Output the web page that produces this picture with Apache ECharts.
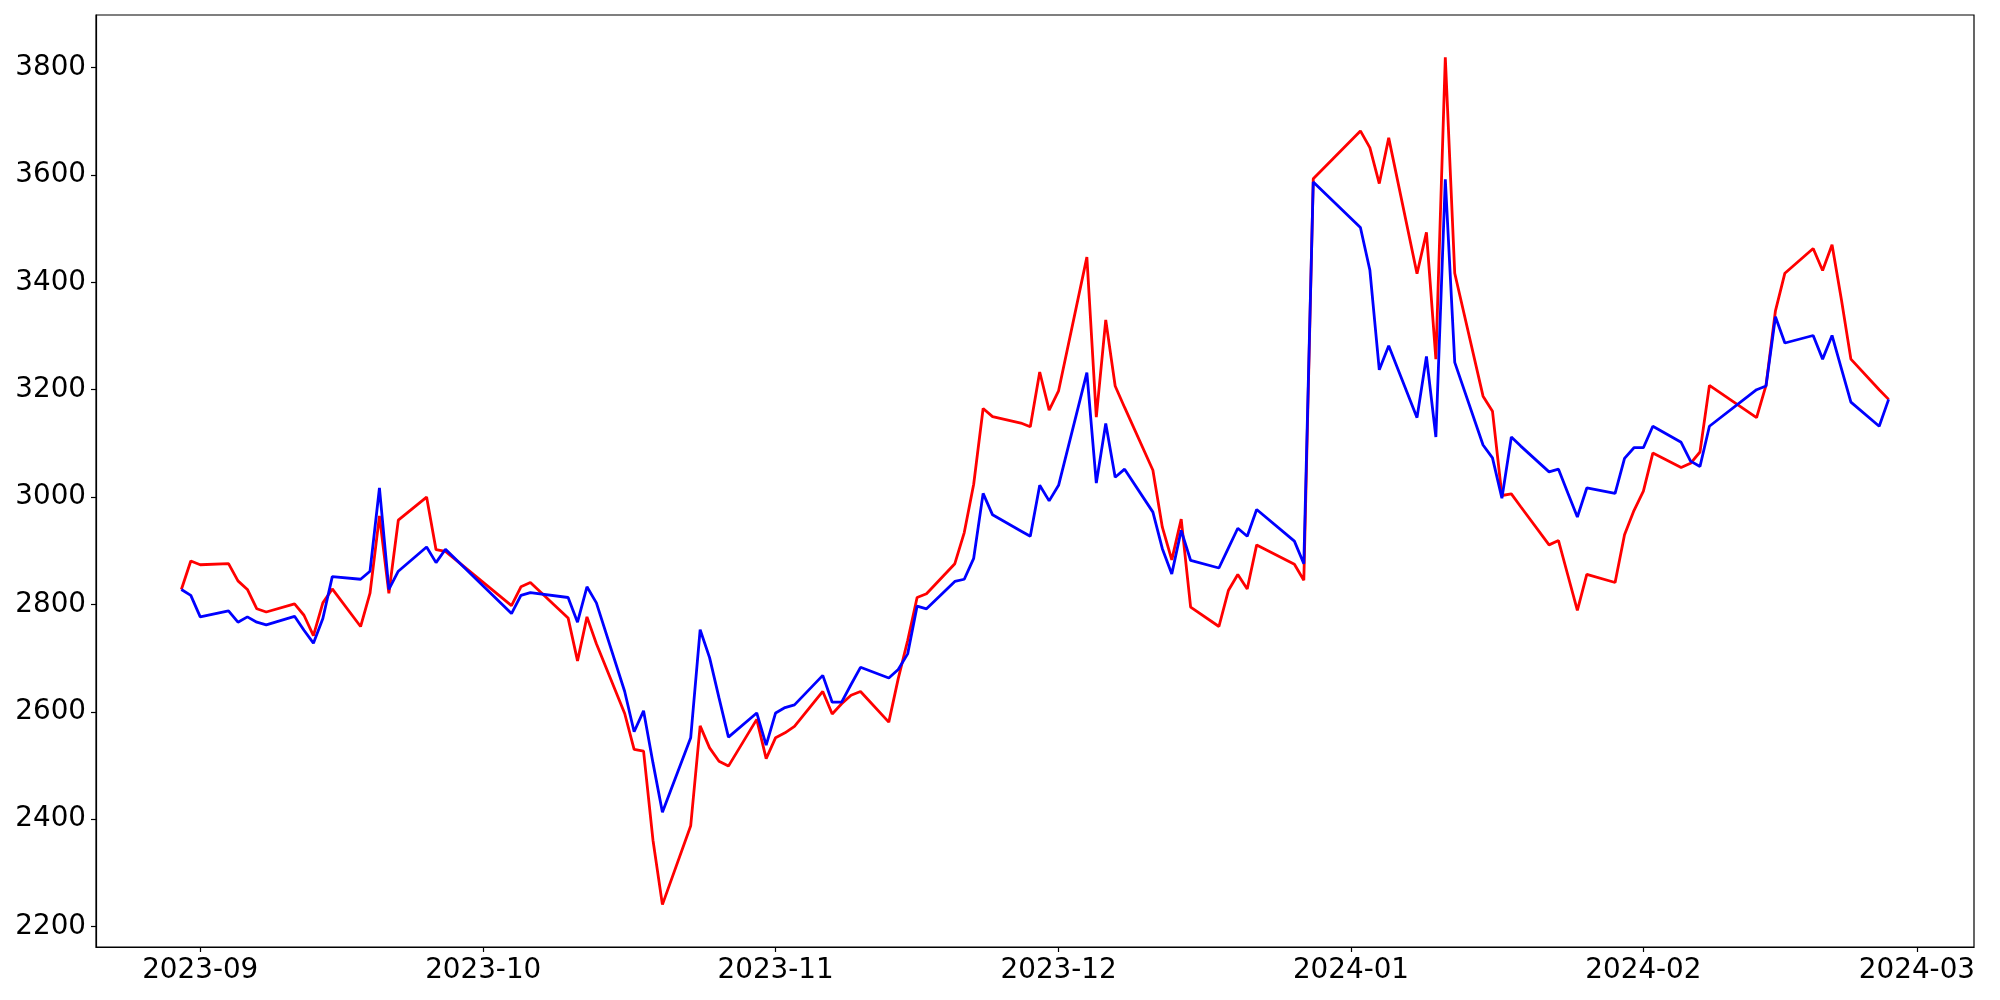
<!DOCTYPE html>
<html>
<head>
<meta charset="utf-8">
<title>line chart</title>
<script src="https://cdn.jsdelivr.net/npm/echarts@6/dist/echarts.min.js"></script>
<style>
  html, body { margin: 0; padding: 0; background: #fff; }
  #main { width: 2000px; height: 1000px; }
</style>
</head>
<body>
<div id="main"></div>
<script>
// trading days (weekends / holidays are simply absent)
const dates = [
  '2023-08-30', '2023-08-31', '2023-09-01',
  '2023-09-04', '2023-09-05', '2023-09-06', '2023-09-07', '2023-09-08',
  '2023-09-11', '2023-09-12', '2023-09-13', '2023-09-14', '2023-09-15',
  '2023-09-18', '2023-09-19', '2023-09-20', '2023-09-21', '2023-09-22',
  '2023-09-25', '2023-09-26', '2023-09-27',
  '2023-10-04', '2023-10-05', '2023-10-06',
  '2023-10-10', '2023-10-11', '2023-10-12', '2023-10-13',
  '2023-10-16', '2023-10-17', '2023-10-18', '2023-10-19', '2023-10-20',
  '2023-10-23', '2023-10-24', '2023-10-25', '2023-10-26', '2023-10-27',
  '2023-10-30', '2023-10-31', '2023-11-01', '2023-11-02', '2023-11-03',
  '2023-11-06', '2023-11-07', '2023-11-08', '2023-11-09', '2023-11-10',
  '2023-11-13', '2023-11-14', '2023-11-15', '2023-11-16', '2023-11-17',
  '2023-11-20', '2023-11-21', '2023-11-22', '2023-11-23', '2023-11-24',
  '2023-11-27', '2023-11-28', '2023-11-29', '2023-11-30', '2023-12-01',
  '2023-12-04', '2023-12-05', '2023-12-06', '2023-12-07', '2023-12-08',
  '2023-12-11', '2023-12-12', '2023-12-13', '2023-12-14', '2023-12-15',
  '2023-12-18', '2023-12-19', '2023-12-20', '2023-12-21', '2023-12-22',
  '2023-12-26', '2023-12-27', '2023-12-28',
  '2024-01-02', '2024-01-03', '2024-01-04', '2024-01-05',
  '2024-01-08', '2024-01-09', '2024-01-10', '2024-01-11', '2024-01-12',
  '2024-01-15', '2024-01-16', '2024-01-17', '2024-01-18', '2024-01-19',
  '2024-01-22', '2024-01-23', '2024-01-24', '2024-01-25', '2024-01-26',
  '2024-01-29', '2024-01-30', '2024-01-31', '2024-02-01', '2024-02-02',
  '2024-02-05', '2024-02-06', '2024-02-07', '2024-02-08',
  '2024-02-13', '2024-02-14', '2024-02-15', '2024-02-16',
  '2024-02-19', '2024-02-20', '2024-02-21', '2024-02-22', '2024-02-23',
  '2024-02-26', '2024-02-27'
]

// red line
const redValues = [
  2828, 2881, 2874,
  2876, 2844, 2828, 2792, 2786,
  2801, 2780, 2742, 2803, 2829,
  2759, 2821, 2965, 2821, 2957,
  3000, 2902, 2899,
  2798, 2833, 2841,
  2775, 2695, 2777, 2727,
  2597, 2530, 2527, 2361, 2241,
  2388, 2574, 2533, 2508, 2499,
  2586, 2513, 2552, 2561, 2573,
  2638, 2596, 2615, 2631, 2638,
  2581, 2662, 2733, 2813, 2820,
  2876, 2934, 3024, 3165, 3150,
  3138, 3131, 3233, 3162, 3198,
  3447, 3149, 3330, 3207, 3167,
  3050, 2944, 2883, 2959, 2795,
  2759, 2826, 2856, 2829, 2911,
  2875, 2845, 3593,
  3682, 3651, 3584, 3669,
  3416, 3493, 3257, 3819, 3417,
  3188, 3160, 3003, 3006, 2982,
  2911, 2919, 2854, 2789, 2856,
  2841, 2930, 2975, 3011, 3082,
  3055, 3063, 3084, 3208,
  3148, 3208, 3347, 3417,
  3463, 3422, 3470, 3367, 3257,
  3200, 3182
]

// blue line
const blueValues = [
  2828, 2817, 2777,
  2788, 2767, 2777, 2767, 2762,
  2778, 2752, 2728, 2774, 2852,
  2847, 2862, 3017, 2828, 2862,
  2907, 2878, 2903,
  2783, 2817, 2822,
  2813, 2767, 2833, 2803,
  2638, 2563, 2602, 2505, 2413,
  2552, 2753, 2701, 2626, 2553,
  2598, 2538, 2598, 2608, 2613,
  2668, 2618, 2618, 2651, 2683,
  2663, 2679, 2708, 2797, 2792,
  2843, 2847, 2886, 3007, 2967,
  2937, 2927, 3022, 2993, 3022,
  3232, 3026, 3137, 3037, 3052,
  2972, 2904, 2857, 2938, 2882,
  2868, 2905, 2942, 2927, 2977,
  2918, 2876, 3587,
  3502, 3423, 3237, 3282,
  3148, 3262, 3112, 3592, 3251,
  3097, 3073, 2998, 3112, 3095,
  3047, 3052, 3007, 2963, 3017,
  3007, 3072, 3092, 3092, 3132,
  3102, 3067, 3057, 3132,
  3200, 3207, 3336, 3287,
  3301, 3257, 3301, 3239, 3177,
  3132, 3182
]

// axis tick labels
const xTickLabels = ['2023-09', '2023-10', '2023-11', '2023-12', '2024-01', '2024-02', '2024-03']
const yTickLabels = [2200, 2400, 2600, 2800, 3000, 3200, 3400, 3600, 3800]

// timestamp (UTC) from 'YYYY-MM-DD' or 'YYYY-MM'
const toTs = (s) => {
  const p = s.split('-').map(Number)
  return Date.UTC(p[0], p[1] - 1, p[2] || 1)
}

const xs = dates.map(toTs)
const xTicks = xTickLabels.map(toTs)

// matplotlib-like 5% margins around the data
const xMin = Math.min(...xs), xMax = Math.max(...xs)
const xPad = (xMax - xMin) * 0.05
const allY = redValues.concat(blueValues)
const yMin = Math.min(...allY), yMax = Math.max(...allY)
const yPad = (yMax - yMin) * 0.05

const font = { fontFamily: 'DejaVu Sans', fontSize: 27.8, color: '#000' }

const chart = echarts.init(document.getElementById('main'), null, { renderer: 'canvas' })
chart.setOption({
  animation: false,
  backgroundColor: '#fff',
  grid: {
    left: 96, right: 26, top: 15, bottom: 53,
    show: true, borderColor: '#000', borderWidth: 1.2, backgroundColor: 'transparent'
  },
  xAxis: {
    type: 'value',
    min: xMin - xPad,
    max: xMax + xPad,
    axisLine: { show: true, onZero: false, lineStyle: { color: '#000', width: 1.2 } },
    axisTick: { show: true, customValues: xTicks, length: 5, lineStyle: { color: '#000', width: 1.2 } },
    axisLabel: {
      ...font,
      margin: 10,
      customValues: xTicks,
      formatter: (v) => xTickLabels[xTicks.indexOf(v)] || ''
    },
    splitLine: { show: false }
  },
  yAxis: {
    type: 'value',
    min: yMin - yPad,
    max: yMax + yPad,
    axisLine: { show: true, onZero: false, lineStyle: { color: '#000', width: 1.2 } },
    axisTick: { show: true, customValues: yTickLabels, length: 5, lineStyle: { color: '#000', width: 1.2 } },
    axisLabel: { ...font, margin: 10, customValues: yTickLabels, formatter: (v) => String(v) },
    splitLine: { show: false }
  },
  series: [
    {
      name: 'red',
      type: 'line',
      showSymbol: false,
      symbol: 'none',
      lineStyle: { color: '#ff0000', width: 2.8 },
      data: xs.map((x, i) => [x, redValues[i]])
    },
    {
      name: 'blue',
      type: 'line',
      showSymbol: false,
      symbol: 'none',
      lineStyle: { color: '#0000ff', width: 2.8 },
      data: xs.map((x, i) => [x, blueValues[i]])
    }
  ]
})
</script>
</body>
</html>
